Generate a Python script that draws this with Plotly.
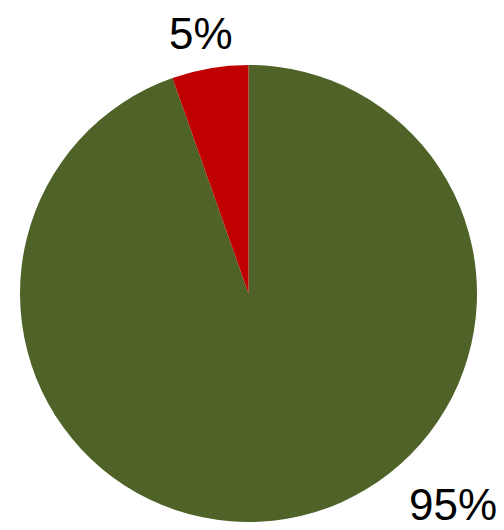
import plotly.graph_objects as go

labels = ["Green", "Red"]
values = [94.6, 5.4]
colors = ["#4F6228", "#C00000"]

total = sum(values)
pct = [f"{round(v / total * 100)}%" for v in values]

W, H = 504, 530
cx, cy, r = 248.5, 293.5, 228.5

fig = go.Figure(go.Pie(
    labels=labels,
    values=values,
    sort=False,
    direction="clockwise",
    rotation=0,
    marker=dict(colors=colors, line=dict(width=0)),
    textinfo="none",
    hoverinfo="label+percent",
    showlegend=False,
    domain=dict(x=[(cx - r) / W, (cx + r) / W], y=[1 - (cy + r) / H, 1 - (cy - r) / H]),
))

font = dict(family="Liberation Sans, Arial, sans-serif", size=44, color="#000000")
fig.add_annotation(text=pct[1], x=201 / W, y=1 - 33 / H, xref="paper", yref="paper",
                   xanchor="center", yanchor="middle", showarrow=False, font=font,
                   height=36, valign="middle")
fig.add_annotation(text=pct[0], x=453 / W, y=1 - 504 / H, xref="paper", yref="paper",
                   xanchor="center", yanchor="middle", showarrow=False, font=font,
                   height=36, valign="middle")

fig.update_layout(
    width=W, height=H,
    margin=dict(l=0, r=0, t=0, b=0),
    paper_bgcolor="white", plot_bgcolor="white",
)

fig.write_html("out.html")
